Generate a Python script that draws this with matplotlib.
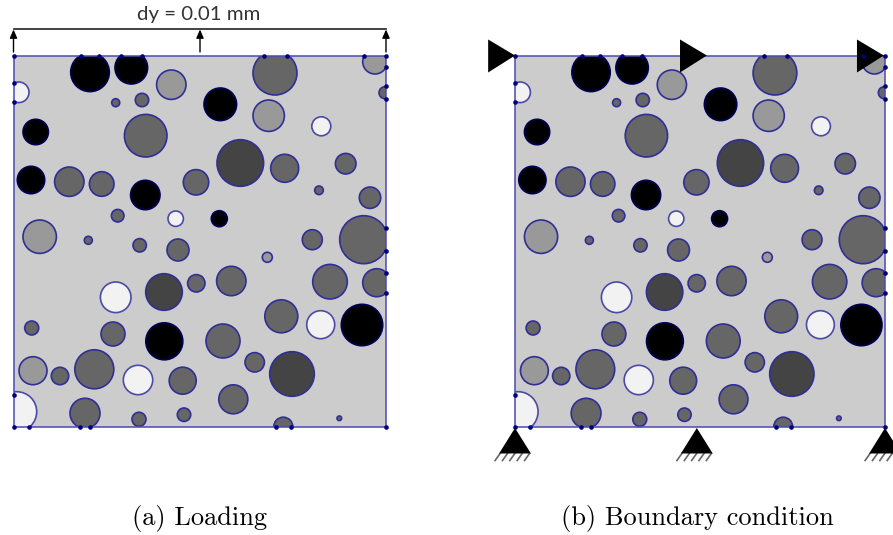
import matplotlib
matplotlib.use('Agg')
import matplotlib.pyplot as plt
from matplotlib.patches import Circle, Rectangle, Polygon

# inclusions, in pixels of that panel
cx = [90, 131.3, 171.3, 275, 375, 18.7, 385, 115.7, 142, 220.3, 268.7, 321.3, 35.7, 145.7, 240.3, 284.7,
      345.7, 31, 69.3, 101.7, 145.3, 196, 319, 370, 117.7, 175.7, 219.3, 39.7, 88.3, 139.7, 178, 312.3,
      363.7, 267.3, 330, 376.7, 115.7, 164, 196.3, 231.3, 281.3, 320.7, 362, 31.7, 113, 164.3, 223, 254.7,
      292, 33, 60, 94.3, 138, 182.7, 233.3, 16.7, 85, 139, 184, 283.3, 339.3]
cy = [72.3, 67.7, 84.7, 73, 61.7, 92.3, 92.7, 102.7, 100, 104.3, 115.7, 126.3, 132, 135.7, 163, 168.3,
      163.7, 180, 181.7, 184, 195, 182.3, 190.3, 197.7, 215.7, 218.7, 218.7, 236.7, 240.3, 245.3, 250, 239.7,
      239.7, 257.3, 281.7, 282.7, 297.3, 292, 283.3, 281, 316.3, 324.7, 325, 328, 334, 341.3, 341, 362.3,
      374, 370.7, 376, 369.3, 380, 380.7, 399.3, 411.7, 413.3, 419.3, 414.7, 426.7, 418.3]
radius = [19.3, 16.3, 14.7, 22, 12.3, 10.3, 6, 4, 6.7, 16.3, 15.7, 9.5, 12.7, 21.3, 23.3, 14,
          10.3, 13.7, 14.7, 12.3, 14.7, 12.7, 4.3, 10.7, 6.3, 7.7, 8, 16.7, 4, 6.7, 11, 10,
          24, 5, 17.3, 14, 15.3, 18.3, 8.7, 14.7, 16.5, 14, 20.7, 7, 12, 18.5, 17, 9.7,
          22.3, 14, 8.7, 19.5, 14.7, 13.5, 14.5, 20, 15, 7, 6.7, 9.5, 2.3]
shade = ['#000000', '#000000', '#999999', '#666666', '#999999', '#f2f2f2', '#666666', '#666666', '#666666',
         '#000000', '#999999', '#f2f2f2', '#000000', '#666666', '#444444', '#666666', '#666666', '#000000',
         '#666666', '#666666', '#000000', '#666666', '#666666', '#666666', '#666666', '#f2f2f2', '#000000',
         '#999999', '#666666', '#666666', '#666666', '#666666', '#666666', '#999999', '#666666', '#666666',
         '#f2f2f2', '#444444', '#666666', '#666666', '#666666', '#f2f2f2', '#000000', '#666666', '#666666',
         '#000000', '#666666', '#666666', '#444444', '#999999', '#666666', '#666666', '#f2f2f2', '#666666',
         '#666666', '#f2f2f2', '#666666', '#666666', '#666666', '#666666', '#666666']

# mesh nodes where the inclusions cut the border
left, right, top, bottom = 13.5, 385.7, 55.5, 426.7
top_nodes = [13.5, 81, 99.3, 121, 141.7, 264.3, 287.3, 364, 385.7]
right_nodes = [66.7, 86, 98.7, 228.3, 251, 272.7, 292.7]
left_nodes = [83.3, 101.7, 395]
bottom_nodes = [13.5, 28.7, 80, 90, 275.7, 291, 385.7]

load_x = [13.5, 200, 386]
roller_x = [13.5, 206.5, 384.5]
pin_x = [13.5, 196.4, 385.7]

EDGE = '#2f2f96'
NODE = '#00007f'
W, H = 893, 535


def draw_specimen(ax):
    rect = Rectangle((left, top), right - left, bottom - top, fc='#cccccc', ec='none', zorder=1)
    ax.add_patch(rect)
    for x, y, r, c in zip(cx, cy, radius, shade):
        ec = '#00005a' if c == '#000000' else ('#4a4aa8' if c == '#f2f2f2' else EDGE)
        p = Circle((x, y), r, fc=c, ec=ec, lw=1.2, zorder=2)
        ax.add_patch(p)
        p.set_clip_path(rect)
    ax.add_patch(Rectangle((left, top), right - left, bottom - top, fc='none', ec='#4a4ab0', lw=1.1, zorder=3))
    nx = top_nodes + [right] * len(right_nodes) + [left] * len(left_nodes) + bottom_nodes
    ny = [top] * len(top_nodes) + right_nodes + left_nodes + [bottom] * len(bottom_nodes)
    ax.scatter(nx, ny, s=11, c=NODE, linewidths=0, zorder=6, clip_on=False)


def make_axes(x0, scale):
    ax = fig.add_axes([x0 / W, 0, scale, 1])
    ax.set_xlim(0, W)
    ax.set_ylim(H, 0)
    ax.axis('off')
    ax.patch.set_alpha(0)
    return ax


fig = plt.figure(figsize=(W / 100, H / 100), dpi=100)

# (a) loading
ax1 = make_axes(0, 1.0)
draw_specimen(ax1)
ax1.plot([load_x[0], load_x[-1]], [29, 29], color='#222222', lw=1.2)
for x in load_x:
    ax1.annotate('', xy=(x, 29.5), xytext=(x, 52),
                 arrowprops=dict(arrowstyle='-|>,head_width=0.22,head_length=0.5', color='black', lw=1.0, shrinkA=0, shrinkB=0))
ax1.text(198.5, 20, 'dy = 0.01 mm', ha='center', va='baseline', fontsize=14.7, color='#333333', family='Lato')

# (b) boundary condition
s = 370 / 372.2
ax2 = make_axes(515 - 13.5 * s, s)
draw_specimen(ax2)
for x in roller_x:
    ax2.add_patch(Polygon([(x - 27, 39.5), (x - 27, 72.5), (x, top)], fc='black', ec='none', zorder=5, clip_on=False))
for x in pin_x:
    ax2.add_patch(Polygon([(x, 428), (x - 16, 453.5), (x + 16, 453.5)], fc='black', ec='none', zorder=5, clip_on=False))
    for k in range(5):
        tx = x - 15 + k * 7.4
        ax2.plot([tx, tx - 5], [453.5, 460.5], color='#666666', lw=1.2, clip_on=False)

fig.text(200 / W, 1 - 525.5 / H, '(a) Loading', ha='center', va='baseline', fontsize=19, family='cmr10')
fig.text(697.5 / W, 1 - 525.5 / H, '(b) Boundary condition', ha='center', va='baseline', fontsize=19, family='cmr10')

fig.savefig('out.png', dpi=100)
